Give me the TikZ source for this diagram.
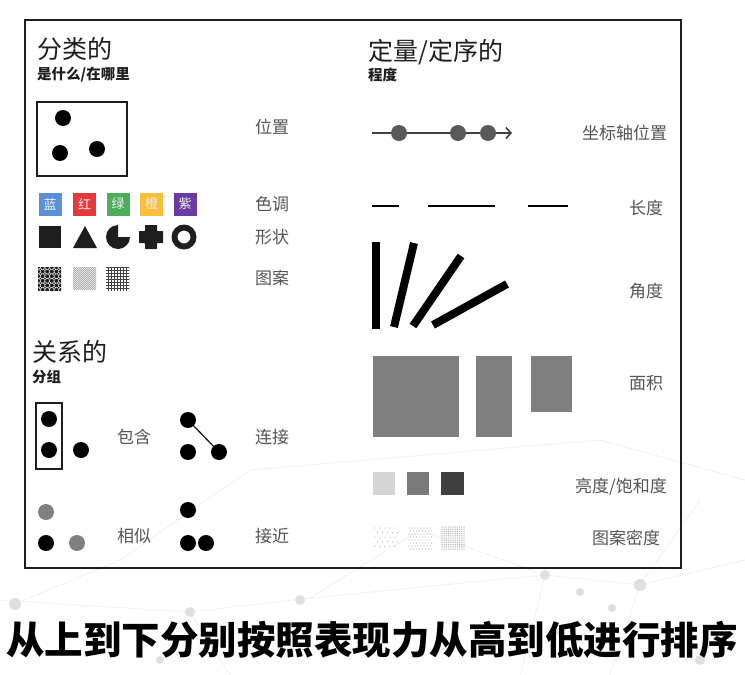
\documentclass[tikz,border=0pt]{standalone}
\usepackage{fontspec}
\setmainfont{Noto Sans CJK SC}
\usetikzlibrary{patterns,arrows.meta}
\definecolor{lab}{HTML}{555555}
\definecolor{ink}{HTML}{1E1E1E}
\definecolor{cblue}{HTML}{5B8FD8}
\definecolor{cred}{HTML}{E8383A}
\definecolor{cgreen}{HTML}{4CAE58}
\definecolor{corange}{HTML}{F8BE3C}
\definecolor{cpurple}{HTML}{6A3CA2}
\definecolor{midg}{HTML}{808080}
\definecolor{deco}{HTML}{EDEDED}
\begin{document}
\begin{tikzpicture}[x=1pt,y=-1pt,
  title/.style={anchor=west,inner sep=0,font=\fontsize{25}{25}\selectfont,text=ink},
  sub/.style={anchor=west,inner sep=0,font=\bfseries\fontsize{14.5}{15}\selectfont,text=ink},
  lbl/.style={anchor=west,inner sep=0,font=\fontsize{17}{17}\selectfont,text=lab},
  swatch/.style={minimum size=23pt,inner sep=0,text=white!88!gray,font=\fontsize{13}{13}\selectfont},
  bdot/.style={circle,fill=black,inner sep=0,minimum size=16pt},
  gdot/.style={circle,fill=midg,inner sep=0,minimum size=16pt},
  adot/.style={circle,fill=black!65,inner sep=0,minimum size=16pt},
  bar/.style={line width=8pt,black},
  seg/.style={line width=2pt,black},
  shp/.style={fill=ink}]
\useasboundingbox (0,0) rectangle (745,675);
\fill[white] (0,0) rectangle (745,675);
% faint background network
\begin{scope}[deco,line width=0.6pt]
\draw (0,600) -- (190,612) -- (310,598) -- (545,575) -- (640,585) -- (745,560);
\draw (15,604) -- (120,560) -- (250,470) -- (600,440) -- (745,480);
\draw (190,612) -- (230,675) (545,575) -- (520,675) (640,585) -- (610,675);
\draw (310,598) -- (420,530) -- (545,575) (640,585) -- (700,500);
\fill[gray!25] (15,604) circle (6) (190,612) circle (5) (300,600) circle (5)
  (545,575) circle (5) (580,592) circle (4) (640,585) circle (6) (612,608) circle (4)
  (560,632) circle (4) (700,660) circle (5) (160,660) circle (4);
\end{scope}
% frame
\draw[line width=1.8pt,ink] (25,20) rectangle (681,568);
% ---------- left column ----------
\node[title] (t1) at (37,49) {分类的};
\node[sub] (s1) at (37,75) {是什么/在哪里};
\draw[line width=1.2pt,ink] (37,102) rectangle (127,176);
\node[bdot] (p1) at (63,118) {};
\node[bdot] (p2) at (60,153) {};
\node[bdot] (p3) at (97,149) {};
\node[lbl] (l1) at (255,127) {位置};
% hue
\node[swatch,fill=cblue] (h1) at (50,204) {蓝};
\node[swatch,fill=cred] (h2) at (84.5,204) {红};
\node[swatch,fill=cgreen] (h3) at (118,204) {绿};
\node[swatch,fill=corange] (h4) at (151.5,204) {橙};
\node[swatch,fill=cpurple] (h5) at (185,204) {紫};
\node[lbl] (l2) at (255,204) {色调};
% shapes
\fill[shp] (39,226) rectangle (61,248);
\fill[shp] (73,248) -- (85,226) -- (97,248) -- cycle;
\fill[shp] (118,237) -- ++(12,0) arc[start angle=0,end angle=270,radius=12] -- cycle;
\fill[shp,rounded corners=0.7pt] (145,225) -- (157,225) -- (157,231) -- (163,231) -- (163,243) -- (157,243) -- (157,249) -- (145,249) -- (145,243) -- (139,243) -- (139,231) -- (145,231) -- cycle;
\fill[shp,even odd rule] (184,237) circle (12.5) (184,237) circle (6.5);
\node[lbl] (l3) at (255,237) {形状};
% patterns
\begin{scope}
\clip (38,267) rectangle (61,290);
\fill[white] (38,267) rectangle (61,290);
\foreach \i in {0,...,5}{\foreach \j in {0,...,5}{
  \fill[ink] ({38+\i*4.6},{267+\j*4.6}) circle (2.0);
  \fill[ink] ({40.3+\i*4.6},{269.3+\j*4.6}) circle (1.0);}}
\end{scope}
\begin{scope}
\clip (73,267) rectangle (96,290);
\fill[gray!15] (73,267) rectangle (96,290);
\foreach \k in {0,...,24}{
  \draw[gray!70,line width=0.6pt] ({73+\k*2},290) -- ++(-24,-24);}
\end{scope}
\fill[pattern=grid,pattern color=black!75] (106,267) rectangle (129,290);
\node[lbl] (l4) at (255,278) {图案};
% relations
\node[title] (t2) at (32,352) {关系的};
\node[sub] (s2) at (32,377) {分组};
\draw[line width=1.2pt,ink] (36,403) rectangle (62,469);
\node[bdot] (r1) at (49,419) {};
\node[bdot] (r2) at (49,450) {};
\node[bdot] (r3) at (81,450) {};
\node[lbl] (l5) at (117,437) {包含};
\node[bdot] (c1) at (188,420) {};
\node[bdot] (c2) at (188,452) {};
\node[bdot] (c3) at (219,452) {};
\draw[line width=1.3pt,ink] (c1) -- (c3);
\node[lbl] (l6) at (255,437) {连接};
\node[gdot] (m1) at (46,512) {};
\node[bdot] (m2) at (46,543) {};
\node[gdot] (m3) at (77,543) {};
\node[lbl] (l7) at (117,536) {相似};
\node[bdot] (n1) at (188,510) {};
\node[bdot] (n2) at (188,543) {};
\node[bdot] (n3) at (206,543) {};
\node[lbl] (l8) at (255,536) {接近};
% ---------- right column ----------
\node[title] (t3) at (368,52) {定量/定序的};
\node[sub] (s3) at (368,75) {程度};
\coordinate (a0) at (372,133);
\coordinate (a1) at (512,133);
\draw[line width=1.8pt,black!75,-{Straight Barb[length=5pt,width=11pt,line width=1.6pt]}] (a0) -- (a1);
\node[adot] (d1) at (399,133) {};
\node[adot] (d2) at (458,133) {};
\node[adot] (d3) at (488,133) {};
\node[lbl] (l9) at (582,133) {坐标轴位置};
\draw[seg] (372,206) -- (399,206);
\draw[seg] (428,206) -- (495,206);
\draw[seg] (528,206) -- (568,206);
\node[lbl] (l10) at (629,208) {长度};
\draw[bar] (376,329) -- (376,242);
\draw[bar] (394,327) -- (414,243);
\draw[bar] (413,326) -- (461,256);
\draw[bar] (433,325) -- (507,284);
\node[lbl] (l11) at (629,291) {角度};
\fill[midg] (373,356) rectangle (459,437);
\fill[midg] (476,356) rectangle (512,437);
\fill[midg] (531,356) rectangle (572,412);
\node[lbl] (l12) at (629,383) {面积};
\fill[black!17] (373,472) rectangle (395,495);
\fill[black!52] (407,472) rectangle (429,495);
\fill[black!75] (441,472) rectangle (464,495);
\node[lbl] (l13) at (575,487) {亮度/饱和度};
\foreach \i in {0,...,4}{\foreach \j in {0,...,4}{
  \fill[gray!55] ({375+\i*5+mod(\j,2)*2.5},{528+\j*4.6}) circle (0.7);}}
\foreach \i in {0,...,7}{\foreach \j in {0,...,7}{
  \fill[gray!55] ({409+\i*3+mod(\j,2)*1.5},{528+\j*3}) circle (0.7);}}
\foreach \i in {0,...,10}{\foreach \j in {0,...,10}{
  \fill[gray!55] ({442+\i*2.2},{527+\j*2.2}) circle (0.75);}}
\node[lbl] (l14) at (592,538) {图案密度};
% caption
\node[inner sep=0,font=\bfseries\fontsize{38.5}{40}\selectfont,text=black] (cap) at (372,640) {从上到下分别按照表现力从高到低进行排序};
\end{tikzpicture}
\end{document}
